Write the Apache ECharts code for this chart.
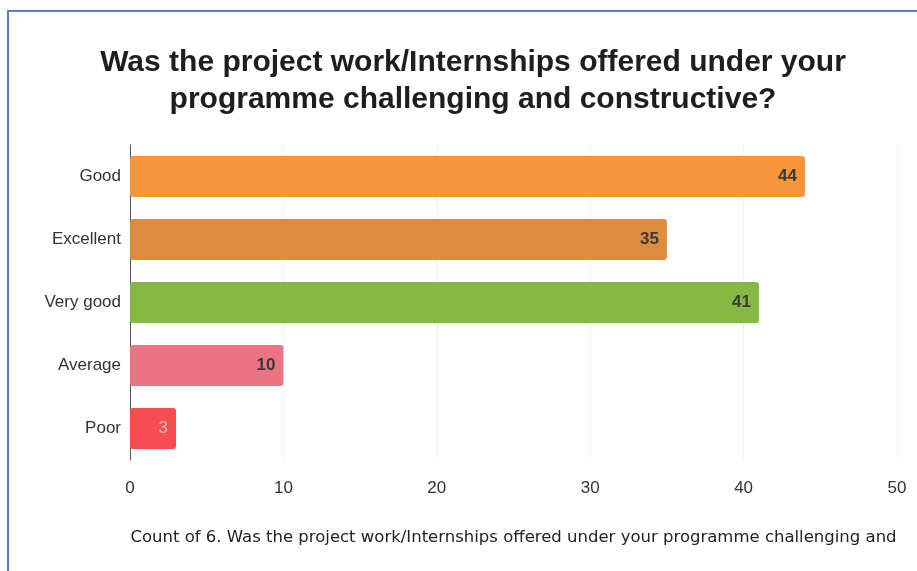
<!DOCTYPE html>
<html><head><meta charset="utf-8">
<script src="https://cdn.jsdelivr.net/npm/echarts@6/dist/echarts.min.js"></script>
<style>html,body{margin:0;padding:0;background:#fff}#c{width:917px;height:571px}</style>
</head><body><div id="c"></div>
<script>
const categories = ['Good','Excellent','Very good','Average','Poor'];
const values = [44, 35, 41, 10, 3];
const barColors = ['#F7963B','#DD8B3C','#86B943','#EC7382','#F64D50'];
const labelColors = ['#3a3a3a','#3a3a3a','#3a3a3a','#3a3a3a','#f8b4b4'];
const xTicks = [0,10,20,30,40,50];
const titleText = 'Was the project work/Internships offered under your\nprogramme challenging and constructive?';
const axisName = 'Count of 6. Was the project work/Internships offered under your programme challenging and';

const chart = echarts.init(document.getElementById('c'));
chart.setOption({
  animation:false,
  backgroundColor:'#fff',
  graphic:[{type:'rect',shape:{x:8,y:11,width:930,height:620},style:{fill:'none',stroke:'#5a7cc0',lineWidth:2},silent:true}],
  title:{text:titleText,left:468,textAlign:'center',top:39,textStyle:{fontFamily:'Liberation Sans',fontWeight:'bold',fontSize:30,lineHeight:37,color:'#1e1e1e'}},
  grid:{left:130,right:20,top:145,bottom:111,containLabel:false},
  xAxis:{type:'value',min:xTicks[0],max:xTicks[xTicks.length-1],interval:10,
    axisLine:{show:false},axisTick:{show:false},
    axisLabel:{margin:20,fontFamily:'Liberation Sans',fontSize:17,color:'#333'},
    splitLine:{show:true,lineStyle:{color:'#e2e2e2',type:'dotted'}},
    name:axisName,nameLocation:'middle',nameGap:69,
    nameTextStyle:{fontFamily:'DejaVu Sans',fontSize:16.5,color:'#222'}},
  yAxis:{type:'category',data:categories,inverse:true,
    axisLine:{show:true,lineStyle:{color:'#555',width:1}},axisTick:{show:false},
    axisLabel:{margin:9,fontFamily:'Liberation Sans',fontSize:17,color:'#333'}},
  series:[{type:'bar',barWidth:41,
    data:values.map((v,i)=>({value:v,itemStyle:{color:barColors[i],borderRadius:3},
      label:{color:labelColors[i],fontWeight:i===4?'normal':'bold'}})),
    label:{show:true,position:'insideRight',distance:8,fontFamily:'Liberation Sans',fontWeight:'bold',fontSize:17}}]
});
</script></body></html>
